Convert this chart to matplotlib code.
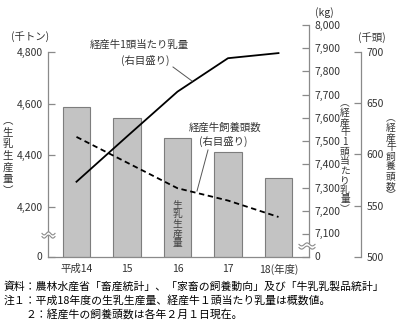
import numpy as np
import matplotlib
matplotlib.use('Agg')
import matplotlib.pyplot as plt
from matplotlib.ticker import FixedLocator, FuncFormatter, NullLocator

plt.rcParams['font.family'] = ['Noto Sans CJK JP', 'DejaVu Sans']

years = ['平成14', '15', '16', '17', '18(年度)']
milk_prod = [4585, 4545, 4465, 4410, 4310]        # 千トン (bars, left)
milk_per_cow = [7325, 7520, 7713, 7857, 7879]     # kg (solid, right)
cows = [617, 592, 567, 555, 539]                  # 千頭 (dashed, far right)

left_ticks = [0, 4200, 4400, 4600, 4800]
kg_ticks = [0, 7100, 7200, 7300, 7400, 7500, 7600, 7700, 7800, 7900, 8000]
head_ticks = [500, 550, 600, 650, 700]

W, H = 400, 326
GRAY = '#8a8a8a'
TXT = '#333333'


def fx(px):
    return np.asarray(px, float) / W


def fy(py):
    return 1 - np.asarray(py, float) / H


# broken scales: a short stub for 0..break, then the real range
def broken(brk, stub, per, step):
    def fwd(v):
        v = np.asarray(v, float)
        return np.where(v <= brk, v * stub / brk, stub + (v - brk) * per / step)

    def inv(h):
        h = np.asarray(h, float)
        return np.where(h <= stub, h * brk / stub, brk + (h - stub) * step / per)
    return fwd, inv


# labels at or below the break are written separately (see below)
def upper_only(brk):
    return FuncFormatter(lambda v, p: '' if v <= brk - 1 or v == brk and brk > 4200 else f'{v:,.0f}')


fig = plt.figure(figsize=(W / 100, H / 100), dpi=100)
ax = fig.add_axes([fx(48), fy(257), fx(309 - 48), (257 - 25) / H])
ax2 = ax.twinx()
ax3 = ax.twinx()

x = np.arange(len(years))
ax.bar(x, milk_prod, width=0.545, color='#c3c3c3', edgecolor='#7d7d7d', linewidth=0.8, zorder=2)
ax.set_xlim(-0.564, 4.604)
ax.set_xticks(x)
ax.set_xticklabels(years, fontsize=7.5, color=TXT)
ax.tick_params(axis='x', length=0, pad=5)

ax.set_yscale('function', functions=broken(4200, 50.5, 51.5, 200))
ax.set_ylim(-0.5, 4905)
ax.yaxis.set_major_locator(FixedLocator(left_ticks))
ax.yaxis.set_minor_locator(NullLocator())
ax.yaxis.set_major_formatter(upper_only(4200))
ax.tick_params(axis='y', direction='in', length=5, width=0.9, color=GRAY,
               labelsize=7.5, labelcolor=TXT, pad=4)
ax.spines['left'].set_bounds(0, 4800)

ax2.plot(x, milk_per_cow, color='black', lw=1.3, zorder=5)
ax2.set_yscale('function', functions=broken(7100, 23, 23.2, 100))
ax2.set_ylim(-0.5, 8000)
ax2.yaxis.set_major_locator(FixedLocator(kg_ticks))
ax2.yaxis.set_minor_locator(NullLocator())
ax2.yaxis.set_major_formatter(upper_only(7100))
ax2.tick_params(axis='y', direction='in', length=5, width=0.9, color=GRAY,
                labelsize=7.5, labelcolor=TXT, pad=4)

ax3.plot(x, cows, color='black', lw=1.3, ls=(0, (3, 2)), zorder=5)
ax3.set_ylim(500, 726)
ax3.yaxis.set_major_locator(FixedLocator(head_ticks))
ax3.tick_params(axis='y', direction='in', length=5, width=0.9, color=GRAY,
                labelsize=7.5, labelcolor=TXT, pad=4)
ax3.spines['right'].set_position(('axes', (361 - 48) / (309 - 48)))
ax3.spines['right'].set_bounds(500, 700)

# low labels on the broken axes
ax.annotate('0', xy=(0, 0), xycoords=('axes fraction', 'data'), xytext=(-4, 0),
            textcoords='offset points', ha='right', va='center', fontsize=7.5, color=TXT,
            annotation_clip=False)
for v in (0, 7100):
    ax2.annotate(f'{v:,}', xy=(1, v), xycoords=('axes fraction', 'data'), xytext=(4, 0),
                 textcoords='offset points', ha='left', va='center', fontsize=7.5, color=TXT,
                 annotation_clip=False)

for a in (ax, ax2, ax3):
    for s in a.spines.values():
        s.set_edgecolor(GRAY)
        s.set_linewidth(0.9)
    a.spines['top'].set_visible(False)
ax.spines['right'].set_visible(False)
for a in (ax2, ax3):
    a.spines['left'].set_visible(False)
    a.spines['bottom'].set_visible(False)


# axis-break mark: white gap over the spine, two wavy strokes
def squiggle(x0, x1, yc):
    xs = np.linspace(x0, x1, 40)
    wave = 1.5 * np.sin((xs - x0) / (x1 - x0) * 3 * np.pi)
    fig.add_artist(plt.Line2D(fx(xs), fy(yc + wave), color='white', lw=2.2, zorder=10))
    for dy in (-1.6, 1.6):
        fig.add_artist(plt.Line2D(fx(xs), fy(yc + dy + wave), color=GRAY, lw=0.8, zorder=11))


squiggle(42, 55, 235)
squiggle(299, 315, 246)


def vtext(px, py, s, size, spacing, color=TXT):
    fig.text(fx(px), fy(py), '\n'.join(s), ha='center', va='center',
             fontsize=size, linespacing=spacing, color=color)


# unit labels and axis titles
fig.text(fx(30), fy(37), '(千トン)', ha='center', va='center', fontsize=7.5, color=TXT)
fig.text(fx(324), fy(13), '(kg)', ha='center', va='center', fontsize=7.5, color=TXT)
fig.text(fx(372), fy(38), '(千頭)', ha='center', va='center', fontsize=7.5, color=TXT)
vtext(8, 156, '︵生乳生産量︶', 7.5, 1.2)
vtext(345, 156, '︵経産牛1頭当たり乳量︶', 7, 0.95)
vtext(391, 157, '︵経産牛飼養頭数︶', 7, 0.95)
ax.text(2, (257 - 224) / 232, '\n'.join('生乳生産量'), transform=ax.get_xaxis_transform(),
        ha='center', va='center', fontsize=7, linespacing=0.95, color='#444444', zorder=6)

# series annotations with leader lines
fig.text(fx(139), fy(45), '経産牛1頭当たり乳量', ha='center', va='center', fontsize=7.5, color=TXT)
fig.text(fx(145), fy(60), '(右目盛り)', ha='center', va='center', fontsize=7.5, color=TXT)
fig.add_artist(plt.Line2D(fx([173, 192]), fy([67, 81]), color='#555555', lw=0.7))
fig.text(fx(225), fy(128), '経産牛飼養頭数', ha='center', va='center', fontsize=7.5, color=TXT)
fig.text(fx(223), fy(141), '(右目盛り)', ha='center', va='center', fontsize=7.5, color=TXT)
fig.add_artist(plt.Line2D(fx([208, 197]), fy([150, 191]), color='#555555', lw=0.7))

# source and notes
fig.text(fx(4), fy(286), '資料：農林水産省「畜産統計」、「家畜の飼養動向」及び「牛乳乳製品統計」',
         ha='left', va='center', fontsize=7.8)
fig.text(fx(4), fy(300), '注１：平成18年度の生乳生産量、経産牛１頭当たり乳量は概数値。',
         ha='left', va='center', fontsize=7.8)
fig.text(fx(25), fy(314), '２：経産牛の飼養頭数は各年２月１日現在。',
         ha='left', va='center', fontsize=7.8)

fig.savefig('out.png', dpi=100)
